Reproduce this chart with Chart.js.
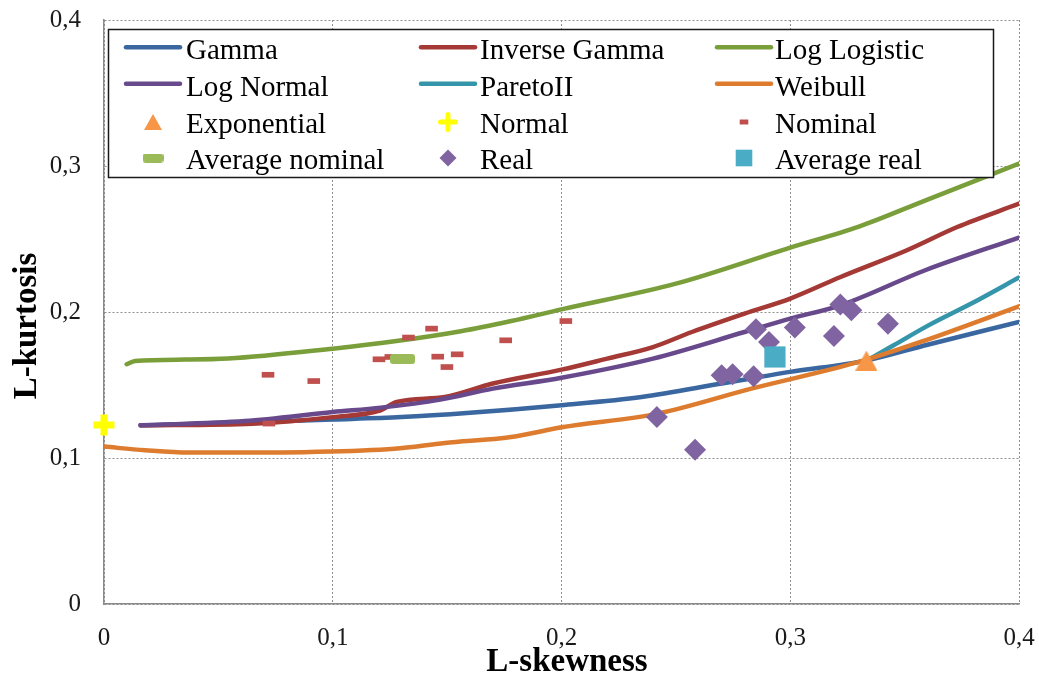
<!DOCTYPE html>
<html>
<head>
<meta charset="utf-8">
<title>L-moment ratio diagram</title>
<script src="https://cdn.jsdelivr.net/npm/chart.js@4.4.1/dist/chart.umd.min.js"></script>
<style>
  html, body { margin: 0; padding: 0; background: #ffffff; }
  canvas { display: block; }
</style>
</head>
<body>
<canvas id="chart" width="1039" height="676"></canvas>
<script>
// ---- tick labels (decimal comma) ----
const xTickLabels = ['0', '0,1', '0,2', '0,3', '0,4'];
const yTickLabels = ['0', '0,1', '0,2', '0,3', '0,4'];
const xTitle = 'L-skewness';
const yTitle = 'L-kurtosis';

// ---- theoretical curves: L-skewness / L-kurtosis ----
const gammaSkew = [0.016, 0.05, 0.1, 0.13, 0.16, 0.2, 0.235, 0.27, 0.3, 0.333, 0.36, 0.4];
const gammaKurt = [0.1224, 0.1238, 0.1263, 0.128, 0.131, 0.1362, 0.1418, 0.151, 0.159, 0.1667, 0.1776, 0.1932];

const invGammaSkew = [0.016, 0.065, 0.1, 0.121, 0.128, 0.149, 0.17, 0.2, 0.22, 0.24, 0.257, 0.28, 0.3, 0.322, 0.351, 0.373, 0.4];
const invGammaKurt = [0.1224, 0.1235, 0.128, 0.1327, 0.1384, 0.1418, 0.151, 0.1605, 0.1681, 0.176, 0.1863, 0.1989, 0.2092, 0.224, 0.2423, 0.2582, 0.2742];

const logLogisticSkew = [0.0099, 0.0136, 0.0354, 0.0542, 0.1, 0.127, 0.156, 0.178, 0.2, 0.25, 0.3, 0.33, 0.36, 0.4];
const logLogisticKurt = [0.1642, 0.1665, 0.1674, 0.1681, 0.1749, 0.1799, 0.1868, 0.1938, 0.2018, 0.2194, 0.2441, 0.2585, 0.277, 0.3016];

const logNormalSkew = [0.016, 0.0615, 0.1, 0.121, 0.147, 0.17, 0.2, 0.24, 0.28, 0.3, 0.322, 0.359, 0.4];
const logNormalKurt = [0.1224, 0.1253, 0.1315, 0.1345, 0.14, 0.1475, 0.155, 0.1681, 0.1863, 0.1955, 0.2046, 0.2286, 0.251];

const paretoSkew = [0.3333, 0.345, 0.36, 0.38, 0.4];
const paretoKurt = [0.1667, 0.177, 0.1905, 0.2065, 0.2236];

const weibullSkew = [0, 0.018, 0.037, 0.06, 0.09, 0.127, 0.149, 0.178, 0.2, 0.242, 0.283, 0.33, 0.359, 0.4];
const weibullKurt = [0.1078, 0.1053, 0.1037, 0.1037, 0.1041, 0.1064, 0.1103, 0.1144, 0.121, 0.1304, 0.1475, 0.1658, 0.1806, 0.2039];

// ---- reference points ----
const exponentialSkew = [0.3333];
const exponentialKurt = [0.1667];
const normalSkew = [0];
const normalKurt = [0.1226];

// ---- sample points ----
const nominalSkew = [0.0717, 0.0917, 0.0721, 0.1202, 0.1254, 0.1331, 0.1432, 0.1459, 0.1499, 0.1544, 0.1756, 0.2019];
const nominalKurt = [0.157, 0.1527, 0.1236, 0.1676, 0.1692, 0.1825, 0.1886, 0.1694, 0.1623, 0.171, 0.1806, 0.1938];
const avgNominalSkew = [0.1305];
const avgNominalKurt = [0.1678];

const realSkew = [0.2417, 0.2584, 0.270, 0.2748, 0.284, 0.285, 0.2907, 0.302, 0.3191, 0.3219, 0.3267, 0.3427];
const realKurt = [0.1281, 0.1057, 0.1566, 0.1573, 0.156, 0.1882, 0.1795, 0.1893, 0.1836, 0.2051, 0.2012, 0.192];
const avgRealSkew = [0.2933];
const avgRealKurt = [0.1692];

const seriesNames = ['Gamma', 'Inverse Gamma', 'Log Logistic', 'Log Normal', 'ParetoII', 'Weibull',
                     'Exponential', 'Normal', 'Nominal', 'Average nominal', 'Real', 'Average real'];

const pairs = (xs, ys) => xs.map((x, i) => ({ x: x, y: ys[i] }));

const FONT = "'Liberation Serif', 'Times New Roman', serif";

// marker images for shapes the library has no centred form of
function triangleImage(w, h, color) {
  const c = document.createElement('canvas');
  c.width = w; c.height = h;
  const g = c.getContext('2d');
  g.fillStyle = color;
  g.beginPath();
  g.moveTo(w / 2, 0);
  g.lineTo(w, h);
  g.lineTo(0, h);
  g.closePath();
  g.fill();
  return c;
}
function pillImage(w, h, r, color) {
  const c = document.createElement('canvas');
  c.width = w; c.height = h;
  const g = c.getContext('2d');
  g.fillStyle = color;
  g.beginPath();
  g.moveTo(r, 0); g.lineTo(w - r, 0); g.quadraticCurveTo(w, 0, w, r);
  g.lineTo(w, h - r); g.quadraticCurveTo(w, h, w - r, h);
  g.lineTo(r, h); g.quadraticCurveTo(0, h, 0, h - r);
  g.lineTo(0, r); g.quadraticCurveTo(0, 0, r, 0);
  g.closePath();
  g.fill();
  return c;
}

const COLORS = {
  gamma: '#3A67A0',
  invGamma: '#A43935',
  logLogistic: '#799E3A',
  logNormal: '#684A8C',
  pareto: '#3595AA',
  weibull: '#DD7C2E',
  exponential: '#F79646',
  normal: '#FFFF00',
  nominal: '#C0504D',
  avgNominal: '#9BBB59',
  real: '#8064A2',
  avgReal: '#4BACC6'
};

const LINE_WIDTH = 4.5;
const triPlot = triangleImage(22, 20, COLORS.exponential);
const pillPlot = pillImage(25, 10, 3, COLORS.avgNominal);

function curve(label, xs, ys, color, idx) {
  return {
    label: label,
    data: pairs(xs, ys),
    showLine: true,
    borderColor: color,
    backgroundColor: color,
    borderWidth: LINE_WIDTH,
    borderCapStyle: 'round',
    borderJoinStyle: 'round',
    cubicInterpolationMode: 'monotone',
    pointRadius: 0,
    pointHoverRadius: 0,
    order: 100 - idx
  };
}
function markers(label, xs, ys, style, idx) {
  return Object.assign({
    label: label,
    data: pairs(xs, ys),
    showLine: false,
    clip: false,
    order: 100 - idx
  }, style);
}

const datasets = [
  curve(seriesNames[0], gammaSkew, gammaKurt, COLORS.gamma, 0),
  curve(seriesNames[1], invGammaSkew, invGammaKurt, COLORS.invGamma, 1),
  curve(seriesNames[2], logLogisticSkew, logLogisticKurt, COLORS.logLogistic, 2),
  curve(seriesNames[3], logNormalSkew, logNormalKurt, COLORS.logNormal, 3),
  curve(seriesNames[4], paretoSkew, paretoKurt, COLORS.pareto, 4),
  curve(seriesNames[5], weibullSkew, weibullKurt, COLORS.weibull, 5),
  markers(seriesNames[6], exponentialSkew, exponentialKurt,
    { pointStyle: triPlot, pointRadius: 11, backgroundColor: COLORS.exponential }, 6),
  markers(seriesNames[7], normalSkew, normalKurt,
    { pointStyle: 'cross', pointRadius: 10.5, pointBorderWidth: 7, borderColor: COLORS.normal, backgroundColor: COLORS.normal }, 7),
  markers(seriesNames[8], nominalSkew, nominalKurt,
    { pointStyle: 'line', pointRadius: 6.3, pointBorderWidth: 5.7, borderColor: COLORS.nominal, backgroundColor: COLORS.nominal }, 8),
  markers(seriesNames[9], avgNominalSkew, avgNominalKurt,
    { pointStyle: pillPlot, pointRadius: 12, backgroundColor: COLORS.avgNominal }, 9),
  markers(seriesNames[10], realSkew, realKurt,
    { pointStyle: 'rectRot', pointRadius: 11, pointBorderWidth: 0, backgroundColor: COLORS.real, borderColor: COLORS.real }, 10),
  markers(seriesNames[11], avgRealSkew, avgRealKurt,
    { pointStyle: 'rect', pointRadius: 15, pointBorderWidth: 0, backgroundColor: COLORS.avgReal, borderColor: COLORS.avgReal }, 11)
];

// legend box drawn inside the plot, three columns by four rows
const legendBox = { left: 108.5, top: 29.5, right: 993.5, bottom: 177.5 };
const legendCols = [
  { lineFrom: 126, lineTo: 180, mark: 153, text: 186 },
  { lineFrom: 421, lineTo: 475, mark: 448, text: 480 },
  { lineFrom: 717, lineTo: 771, mark: 744, text: 775 }
];
const legendBaselines = [59.3, 95.8, 132.5, 168.5];

function drawLegendMarker(ctx, name, cx, cy) {
  ctx.save();
  switch (name) {
    case 'Exponential':
      ctx.fillStyle = COLORS.exponential;
      ctx.beginPath();
      ctx.moveTo(cx, cy - 8); ctx.lineTo(cx + 9, cy + 8); ctx.lineTo(cx - 9, cy + 8);
      ctx.closePath(); ctx.fill();
      break;
    case 'Normal':
      ctx.strokeStyle = COLORS.normal; ctx.lineWidth = 5;
      ctx.beginPath();
      ctx.moveTo(cx - 7.5, cy); ctx.lineTo(cx + 7.5, cy);
      ctx.moveTo(cx, cy - 7.5); ctx.lineTo(cx, cy + 7.5);
      ctx.stroke();
      break;
    case 'Nominal':
      ctx.fillStyle = COLORS.nominal;
      ctx.fillRect(cx - 4.3, cy - 2.5, 8.6, 5);
      break;
    case 'Average nominal':
      ctx.drawImage(pillImage(21, 9, 3, COLORS.avgNominal), cx - 10.5, cy - 4.5);
      break;
    case 'Real':
      ctx.fillStyle = COLORS.real;
      ctx.beginPath();
      ctx.moveTo(cx - 8.5, cy); ctx.lineTo(cx, cy - 8.5); ctx.lineTo(cx + 8.5, cy); ctx.lineTo(cx, cy + 8.5);
      ctx.closePath(); ctx.fill();
      break;
    case 'Average real':
      ctx.fillStyle = COLORS.avgReal;
      ctx.fillRect(cx - 8.3, cy - 8.3, 16.6, 16.6);
      break;
  }
  ctx.restore();
}

const decorations = {
  id: 'decorations',
  afterDraw(chart) {
    const ctx = chart.ctx;
    ctx.save();

    // axis titles
    ctx.fillStyle = '#000000';
    ctx.font = 'bold 33px ' + FONT;
    ctx.textAlign = 'center';
    ctx.textBaseline = 'alphabetic';
    ctx.fillText(xTitle, 567, 671);
    ctx.save();
    ctx.translate(36, 326);
    ctx.rotate(-Math.PI / 2);
    ctx.fillText(yTitle, 0, 0);
    ctx.restore();

    // legend frame
    const b = legendBox;
    ctx.fillStyle = '#ffffff';
    ctx.fillRect(b.left, b.top, b.right - b.left, b.bottom - b.top);
    ctx.strokeStyle = '#1a1a1a';
    ctx.lineWidth = 1.5;
    ctx.strokeRect(b.left, b.top, b.right - b.left, b.bottom - b.top);

    // legend entries
    ctx.font = '29px ' + FONT;
    ctx.textAlign = 'left';
    chart.data.datasets.forEach((ds, i) => {
      const col = legendCols[i % 3];
      const base = legendBaselines[Math.floor(i / 3)];
      if (ds.showLine) {
        ctx.strokeStyle = ds.borderColor;
        ctx.lineWidth = LINE_WIDTH;
        ctx.lineCap = 'round';
        ctx.beginPath();
        ctx.moveTo(col.lineFrom, base - 12);
        ctx.lineTo(col.lineTo, base - 12);
        ctx.stroke();
      } else {
        drawLegendMarker(ctx, ds.label, col.mark, base - 10.5);
      }
      ctx.fillStyle = '#000000';
      ctx.fillText(ds.label, col.text, base);
    });
    ctx.restore();
  }
};

const gridColor = '#8f8f8f';
const axisColor = '#8a8a8a';
const tickFont = { family: FONT, size: 25 };

// label gaps come from invisible tick marks so they do not widen the outer padding
new Chart(document.getElementById('chart'), {
  type: 'scatter',
  data: { datasets: datasets },
  plugins: [decorations],
  options: {
    responsive: false,
    animation: false,
    events: [],
    layout: { padding: { left: 0, top: 20, right: 20, bottom: 0 } },
    plugins: {
      legend: { display: false },
      tooltip: { enabled: false }
    },
    scales: {
      x: {
        type: 'linear',
        min: 0,
        max: 0.4,
        afterFit(scale) { scale.height = 72; },
        ticks: {
          stepSize: 0.1,
          padding: 0,
          color: '#1a1a1a',
          font: tickFont,
          maxRotation: 0,
          autoSkip: false,
          callback: (v, i) => xTickLabels[i]
        },
        grid: { color: gridColor, lineWidth: 1, drawTicks: true, tickLength: 19, tickColor: 'rgba(0,0,0,0)' },
        border: { display: true, color: axisColor, width: 1.5, dash: [2, 2] }
      },
      y: {
        type: 'linear',
        min: 0,
        max: 0.4,
        afterFit(scale) { scale.width = 104; },
        ticks: {
          stepSize: 0.1,
          padding: 0,
          color: '#1a1a1a',
          font: tickFont,
          callback: (v, i) => yTickLabels[i]
        },
        grid: { color: gridColor, lineWidth: 1, drawTicks: true, tickLength: 23, tickColor: 'rgba(0,0,0,0)' },
        border: { display: true, color: axisColor, width: 1.5, dash: [2, 2] }
      }
    }
  }
});
</script>
</body>
</html>
